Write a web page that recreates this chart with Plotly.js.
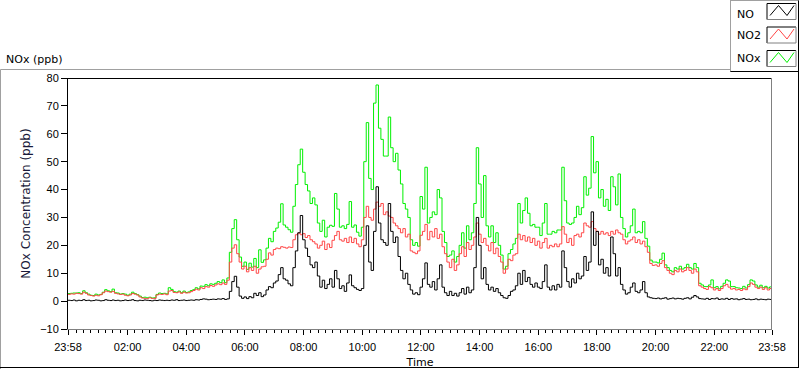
<!DOCTYPE html>
<html>
<head>
<meta charset="utf-8">
<script src="https://cdn.plot.ly/plotly-3.0.1.min.js"></script>
<style>html,body{margin:0;padding:0;background:#fff;}#chart{width:800px;height:369px;}</style>
</head>
<body>
<div id="chart"></div>
<script>
// ---- data (5-minute samples from 23:58 to 23:58 next day) ----
const startTime = '2012-01-01 23:58:00';
const endTime = '2012-01-02 23:58:00';
const stepMinutes = 5;

const noValues = [
0.3,0.2,0.4,0.1,0.3,0.2,0.5,0.2,0.3,0.1,
0.2,0.4,0.3,0.1,0.2,0.5,0.3,0.2,0.4,0.2,
0.3,0.1,0.2,0.4,0.2,0.3,0.5,0.2,0.1,0.3,
0.2,0.4,0.3,0.2,0.1,0.3,0.2,0.4,0.3,0.2,
0.3,0.2,0.4,0.3,0.5,0.2,0.3,0.4,0.2,0.3,
0.4,0.3,0.5,0.4,0.6,0.8,0.7,0.5,0.6,0.7,
0.6,0.8,0.7,0.9,0.6,0.8,3.5,7,8.9,5,
1.8,1.0,1.5,0.9,1.6,1.2,2.8,2.0,3.0,1.6,
2.2,4,5.2,4.8,6.5,7.2,9.5,12,8,7.5,
6.2,5.5,12,18,24.5,30.7,22,19,16,13,
12,14,9,5,7.5,4.5,6,8,5,11,
8,4.5,5.5,3.5,6.5,9.4,5.5,4.8,4.2,3.8,
4.5,20,27,14,11,25,41,28,22,21,
20,35,25,21,23,16,11,8,10,6,
4,2.5,3,2.3,5,8,13.7,6,5,7,
4,8,13,5,3,2,3.5,2,2.8,1.8,
3,4.5,2.5,5,3,4,12,30,20,8,
12,6,4,5,3.5,4.5,3,2,1.2,1,
2,3.5,4,5.5,10,6,11,7,8.5,6,
5,6.5,5,4.5,7,13,5,4,5.5,4,
6,5,18,12,7,5,8,6.5,10,8,
9,16,11,14,32,20,25,13,15,10,
12,9,23,17,9,12,6,4,2.5,3,
5,6.5,3.5,3,4,7,3,1.5,1.2,1.0,
0.9,1.1,0.8,1.0,1.2,0.7,0.9,1.1,0.8,1.0,
0.9,0.7,1.0,1.2,0.8,1.4,2.0,1.5,0.9,0.8,
0.7,1.0,0.6,0.9,0.8,1.1,0.6,0.8,0.7,1.0,
0.6,0.9,0.7,0.8,0.5,0.7,0.9,0.6,0.7,0.5,
0.6,0.8,0.5,0.7,0.6,0.5,0.7,0.6,0.5
];

const no2Values = [
2.4,2.6,2.5,2.8,2.7,2.5,3.2,2.8,2.2,2.0,
1.8,2.1,1.9,2.3,3.0,3.6,3.4,3.2,3.5,2.8,
2.6,2.4,2.5,2.1,1.9,2.2,2.7,2.5,2.2,1.5,
1.1,1.0,0.9,1.2,1.0,0.9,2.2,2.5,2.4,2.6,
2.3,3.6,3.8,3.1,3.0,3.3,2.8,3.2,2.9,3.0,
3.4,3.8,4.3,4.0,4.8,4.5,5.2,5.0,5.6,5.3,
5.8,6.2,5.9,6.5,6.0,7.5,14,19,20.2,17,
14,11.5,12.5,10.5,12,11,12.5,10,11.5,12.3,
12.5,15,17.3,16.5,18.5,19,18.8,19.5,19.3,19.0,
19.4,19.2,22,23.8,24.4,23.8,24.2,22.8,23.5,22,
21.3,20.5,19,20,21.5,18.5,20.5,19.2,21.8,23.5,
25,22,21.5,22.5,21,23,21,22.5,20.5,19.5,
22,30,34,30,29,33,35.5,34,35,31,
32,30.5,30,28,27,26,24.5,26,23,24,
18,17.5,17,18,23.6,25,27.5,22,25,23,
26,22.5,24,19.5,17,14,12,15,11,13,
17,19.5,16,21,18.5,20,23,28,24,21,
22.5,20,18,21,17,19,16,14,10,11.5,
15,14.5,16.5,17,24,22,23.5,21.5,23,21,
22.5,20,21.5,19,21,22.5,19,20,19.5,20.5,
19.5,20.5,26.7,24,21,22.5,20,23.5,24,23,
24.5,28,27,26.5,28.5,26,25,24,25,24,
24.5,23.5,25,24,25.5,24.5,24,22,20.5,21.5,
22,23,21,22,20.5,21.5,19.5,17.5,13.5,12.8,
13,12.5,13.5,14.5,12,11,10,9.5,11,10.5,
11.5,10.5,11,12,11,10,11.5,10.5,5.5,5,
4.5,4.2,5.2,4.8,4,4.5,3.8,4.5,5.5,6,
5,4.3,4.5,4,4.2,3.8,4.4,4.1,5.2,6.5,
6,5,4.5,5,4.2,4.8,4,4.5,4.2
];

const noxValues = [
2.7,2.8,2.9,2.9,3.0,2.7,3.7,3.0,2.5,2.1,
2.0,2.5,2.2,2.4,3.2,4.1,3.7,3.4,4.3,3.0,
2.9,2.5,2.7,2.5,2.1,2.5,3.2,2.7,2.3,1.8,
1.3,1.4,1.2,1.4,1.1,1.2,2.4,2.9,2.7,2.8,
2.6,4.8,4.2,3.4,3.2,3.6,3.0,3.6,3.1,3.3,
3.8,4.1,4.8,4.4,5.4,5.3,5.9,5.5,6.2,6.0,
6.4,7.0,6.6,7.6,6.6,8.3,17.5,26,29.2,22,
15.8,12.5,14,11.4,13.6,12.2,15.3,12,18.4,13.9,
14.8,19,22.5,21.3,25,26.2,28.3,34.9,27.3,26.5,
25.6,24.7,34,41.8,48.9,54.5,46.2,41.8,39.5,35,
37,34.5,28,25,29,23,26.5,27.2,26.8,38.6,
33,26.5,27,26,27.5,35.7,26.5,27.3,24.7,23.3,
26.5,50,64,44,40,71,77.5,62,58,52,
52,66,55,50,53,47,42,35,33,30,
22,20,21,19.7,37.5,33,48,28,30,32,
31,40,37,25,21,16,16.5,18,14,16,
20,24.5,19,27,22,24.5,35,55,42,30,
45,27,23,27,21,24.5,20,16.5,11.5,12.5,
17,18.5,20.5,22.5,35,28,32.5,37,31.5,27,
27.5,26.5,26.5,23.5,28,35,24,24,25,24.5,
25.5,25.5,48,36,28,27.5,28,30,34,31,
33.5,44.6,38,40.5,59,46,50,37,40,34,
36.5,32.5,44.6,41,34.5,45.6,30,26,23,24.5,
27,33,24.5,25,24.5,28.5,22.5,19.7,14.7,14,
14,13.7,15,17.2,13,12,11,10.5,12,11.5,
12.5,11.5,12,13.2,12,11.5,13.5,12,6.4,5.8,
5.2,5.2,5.8,7.6,4.8,5.2,4.4,5.3,6.4,7.6,
7.2,5.2,5.2,4.8,4.7,4.5,5.3,4.7,5.9,7.6,
7.2,5.8,5.0,5.7,4.8,5.3,4.7,5.1,4.7
];

const seriesNames = ['NO', 'NO2', 'NOx'];
const tickTexts = ['23:58','02:00','04:00','06:00','08:00','10:00','12:00','14:00','16:00','18:00','20:00','22:00','23:58'];
const tickTimes = ['2012-01-01 23:58:00','2012-01-02 02:00:00','2012-01-02 04:00:00','2012-01-02 06:00:00','2012-01-02 08:00:00','2012-01-02 10:00:00','2012-01-02 12:00:00','2012-01-02 14:00:00','2012-01-02 16:00:00','2012-01-02 18:00:00','2012-01-02 20:00:00','2012-01-02 22:00:00','2012-01-02 23:58:00'];

// ---- time axis values ----
function fmt(ms){ return new Date(ms).toISOString().slice(0,19).replace('T',' '); }
const t0 = Date.UTC(2012,0,1,23,58,0);
const times = noValues.map((_, i) => fmt(t0 + i * stepMinutes * 60000));

// ---- styling ----
const colNO = '#000000', colNO2 = '#ff4646', colNOx = '#00f000';
const W = 800, H = 369, L = 68, R = 772, T = 78, B = 329;
const px = v => (v - L) / (R - L);
const py = v => (B - v) / (B - T);
function seg(x0,y0,x1,y1,color){
  return {type:'line', xref:'paper', yref:'paper', x0:px(x0), y0:py(y0), x1:px(x1), y1:py(y1), line:{color:color, width:1}, layer:'above'};
}
function zig(y0, color){
  const pts = [[770,y0+12],[778.5,y0+2],[787,y0+12],[794,y0+2]];
  const d = pts.map((p,k)=>(k?'L':'M')+px(p[0])+','+py(p[1])).join(' ');
  return {type:'path', xref:'paper', yref:'paper', path:d, line:{color:color, width:1}, layer:'above'};
}
const shapes = [
  seg(68,78.5,772,78.5,'#000'),
  seg(771.5,78,771.5,329,'#808080'),
  seg(0.5,69.5,730.5,69.5,'#a0a0a0'),
  seg(0.5,69.5,0.5,369,'#a0a0a0'),
  seg(0,367.5,799,367.5,'#000'),
  seg(798.5,0,798.5,368,'#000'),
  seg(730.5,0,730.5,72,'#a0a0a0'),
  seg(730.5,0.5,798.5,0.5,'#a0a0a0'),
  seg(730.5,71.5,798.5,71.5,'#000')
];
const boxTops = [3.5, 27, 50.5];
const boxCols = [colNO, colNO2, colNOx];
boxTops.forEach((y,k)=>{
  shapes.push(seg(767,y,796,y,'#000'));
  shapes.push(seg(767,y,767,y+16,'#000'));
  shapes.push(seg(767,y+16,796,y+16,'#808080'));
  shapes.push(seg(796,y,796,y+16,'#808080'));
  shapes.push(zig(y, boxCols[k]));
});
const fontMain = 'DejaVu Sans, Liberation Sans, sans-serif';
const annotations = [
  {text:'NOx (ppb)', xref:'paper', yref:'paper', x:px(4), y:py(59), xanchor:'left', yanchor:'middle', showarrow:false, font:{family:fontMain, size:11, color:'#000'}},
];
const legendY = [14, 35.5, 58.5];
seriesNames.forEach((n,k)=>{
  annotations.push({text:n, xref:'paper', yref:'paper', x:px(735), y:py(legendY[k]), xanchor:'left', yanchor:'middle', showarrow:false, font:{family:fontMain, size:11, color:'#000'}});
});

const traces = [
  {x:times, y:noxValues, name:seriesNames[2], type:'scatter', mode:'lines', line:{color:colNOx, width:1, shape:'hv'}},
  {x:times, y:no2Values, name:seriesNames[1], type:'scatter', mode:'lines', line:{color:colNO2, width:1, shape:'hv'}},
  {x:times, y:noValues, name:seriesNames[0], type:'scatter', mode:'lines', line:{color:colNO, width:1, shape:'hv'}}
];

const layout = {
  width:W, height:H,
  margin:{l:L, r:W-R, t:T, b:H-B, pad:0},
  paper_bgcolor:'#fff', plot_bgcolor:'#fff',
  showlegend:false,
  font:{family:'Liberation Sans, Arial, sans-serif', size:11, color:'#000'},
  xaxis:{
    type:'date', range:[startTime, endTime],
    tickmode:'array', tickvals:tickTimes, ticktext:tickTexts,
    ticks:'outside', ticklen:5, tickcolor:'#000', tickwidth:1,
    ticklabelstandoff:3,
    minor:{ticks:'outside', ticklen:3, tickcolor:'#000', dtick:15*60*1000, tick0:'2012-01-02 00:00:00', showgrid:false},
    showline:true, linecolor:'#808080', linewidth:1,
    showgrid:false, zeroline:false,
    tickfont:{family:'Liberation Sans, Arial, sans-serif', size:11, color:'#000'},
    title:{text:'Time', font:{family:fontMain, size:11, color:'#000'}, standoff:6},
    automargin:false, fixedrange:true
  },
  yaxis:{
    range:[-10,80], dtick:10, tick0:0,
    ticks:'outside', ticklen:6, tickcolor:'#000', tickwidth:1,
    showline:true, linecolor:'#000', linewidth:1,
    showgrid:false, zeroline:false,
    tickfont:{family:'Liberation Sans, Arial, sans-serif', size:11, color:'#000'},
    title:{text:'NOx Concentration (ppb)', font:{family:fontMain, size:12, color:'#1a1a3a'}, standoff:6},
    automargin:false, fixedrange:true
  },
  shapes:shapes,
  annotations:annotations
};

Plotly.newPlot('chart', traces, layout, {displayModeBar:false, staticPlot:true});
</script>
</body>
</html>
